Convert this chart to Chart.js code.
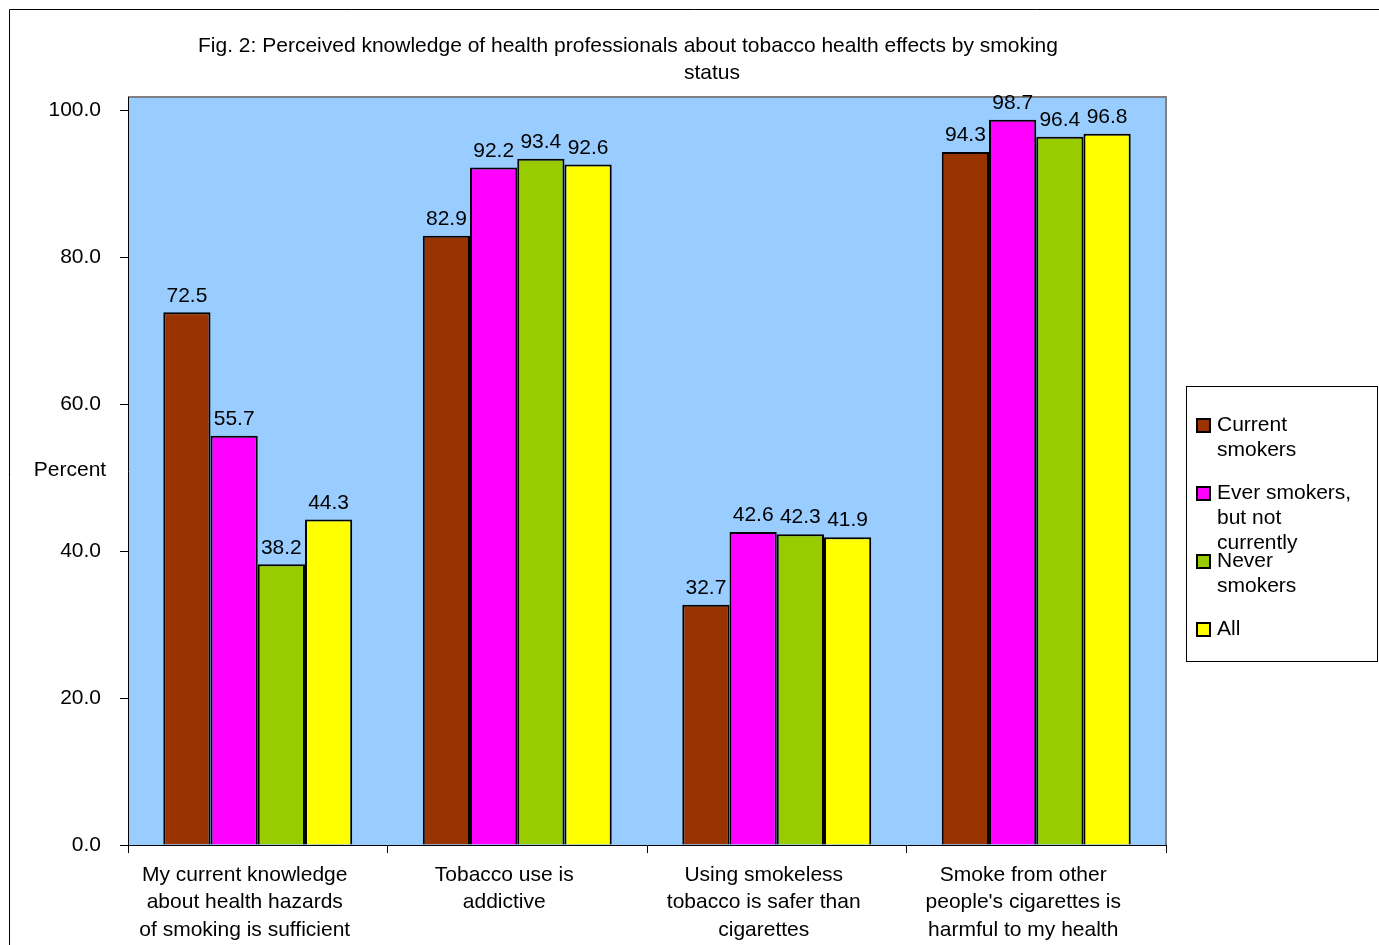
<!DOCTYPE html>
<html>
<head>
<meta charset="utf-8">
<script src="https://cdn.jsdelivr.net/npm/chart.js@4"></script>
<style>
  html, body { margin: 0; padding: 0; background: #fff; }
  #wrap { width: 1379px; height: 945px; }
</style>
</head>
<body>
<div id="wrap"><canvas id="knowChart" width="1379" height="945"></canvas></div>
<script>
// Perceived knowledge by smoking status (percent)
const categories = [
    ['My current knowledge', 'about health hazards', 'of smoking is sufficient'],
    ['Tobacco use is', 'addictive'],
    ['Using smokeless', 'tobacco is safer than', 'cigarettes'],
    ['Smoke from other', "people's cigarettes is", 'harmful to my health']
];
const currentSmokers = [72.5, 82.9, 32.7, 94.3];
const everSmokers = [55.7, 92.2, 42.6, 98.7];
const neverSmokers = [38.2, 93.4, 42.3, 96.4];
const allRespondents = [44.3, 92.6, 41.9, 96.8];
const seriesNames = ['Current smokers', 'Ever smokers, but not currently', 'Never smokers', 'All'];
const legendLines = [['Current', 'smokers'], ['Ever smokers,', 'but not', 'currently'], ['Never', 'smokers'], ['All']];
const yTicks = [0, 20, 40, 60, 80, 100];
const titleLines = ['Fig. 2: Perceived knowledge of health professionals about tobacco health effects by smoking', 'status'];

const FONT = 'Liberation Sans, Arial, sans-serif';
const FSIZE = 21;
const colors = ['#993300', '#FF00FF', '#99CC00', '#FFFF00'];

// plot background, outer frame, title, axis caption, value labels and legend
const decorations = {
    id: 'decorations',
    beforeDraw(chart) {
        const { ctx, chartArea: a } = chart;
        ctx.save();
        ctx.fillStyle = '#99CCFF';
        ctx.fillRect(a.left, a.top, a.right - a.left, a.bottom - a.top);
        ctx.strokeStyle = '#808080';
        ctx.lineWidth = 2;
        ctx.beginPath();
        ctx.moveTo(a.left, a.top);
        ctx.lineTo(a.right, a.top);
        ctx.lineTo(a.right, a.bottom);
        ctx.stroke();
        ctx.restore();
    },
    afterDraw(chart) {
        const { ctx } = chart;
        ctx.save();
        // frame
        ctx.strokeStyle = '#000';
        ctx.lineWidth = 1;
        ctx.beginPath();
        ctx.moveTo(9.5, 945);
        ctx.lineTo(9.5, 9.5);
        ctx.lineTo(1379, 9.5);
        ctx.stroke();

        ctx.fillStyle = '#000';
        ctx.font = FSIZE + 'px ' + FONT;
        ctx.textAlign = 'center';
        ctx.textBaseline = 'middle';
        ctx.fillText(titleLines[0], 628, 46);
        ctx.fillText(titleLines[1], 712, 73);
        ctx.fillText('Percent', 70, 470);

        // value labels
        ctx.textBaseline = 'bottom';
        chart.data.datasets.forEach((ds, i) => {
            chart.getDatasetMeta(i).data.forEach((bar, j) => {
                ctx.fillText(ds.data[j].toFixed(1), bar.x, bar.y - 6);
            });
        });

        // legend
        ctx.strokeStyle = '#000';
        ctx.lineWidth = 1;
        ctx.strokeRect(1186.5, 386.5, 191, 275);
        ctx.textAlign = 'left';
        ctx.textBaseline = 'middle';
        const rowY = [425, 493, 561, 629];
        legendLines.forEach((lines, i) => {
            ctx.fillStyle = colors[i];
            ctx.fillRect(1197, rowY[i] - 6, 13, 13);
            ctx.lineWidth = 2;
            ctx.strokeRect(1197, rowY[i] - 6, 13, 13);
            ctx.fillStyle = '#000';
            lines.forEach((t, k) => ctx.fillText(t, 1217, rowY[i] + k * 25));
        });
        ctx.restore();
    }
};

const ctx = document.getElementById('knowChart').getContext('2d');
const knowChart = new Chart(ctx, {
    type: 'bar',
    data: {
        labels: categories,
        datasets: [currentSmokers, everSmokers, neverSmokers, allRespondents].map((d, i) => ({
            label: seriesNames[i],
            data: d,
            backgroundColor: colors[i],
            borderColor: '#000',
            borderWidth: 2,
            borderSkipped: 'bottom',
            categoryPercentage: 0.728,
            barPercentage: 1.0
        }))
    },
    options: {
        responsive: false,
        animation: false,
        devicePixelRatio: 1,
        layout: { padding: { top: 97, right: 213, left: 0, bottom: 0 } },
        plugins: {
            legend: { display: false },
            title: { display: false },
            tooltip: { enabled: false }
        },
        scales: {
            x: {
                offset: true,
                grid: {
                    offset: true,
                    drawOnChartArea: false,
                    drawTicks: true,
                    tickLength: 8,
                    color: '#000'
                },
                border: { color: '#000', width: 1 },
                ticks: {
                    color: '#000',
                    padding: 9,
                    labelOffset: -13,
                    maxRotation: 0,
                    autoSkip: false,
                    font: { family: FONT, size: FSIZE, lineHeight: 1.29 }
                },
                afterFit(scale) { scale.height = 100; }
            },
            y: {
                min: 0,
                max: 101.8,
                afterBuildTicks(scale) {
                    scale.ticks = yTicks.map(v => ({ value: v }));
                },
                grid: {
                    drawOnChartArea: false,
                    drawTicks: true,
                    tickLength: 8,
                    color: '#000'
                },
                border: { color: '#000', width: 1 },
                ticks: {
                    color: '#000',
                    padding: 19,
                    font: { family: FONT, size: FSIZE },
                    callback: v => Number(v).toFixed(1)
                },
                afterFit(scale) { scale.width = 128; }
            }
        }
    },
    plugins: [decorations]
});
</script>
</body>
</html>
